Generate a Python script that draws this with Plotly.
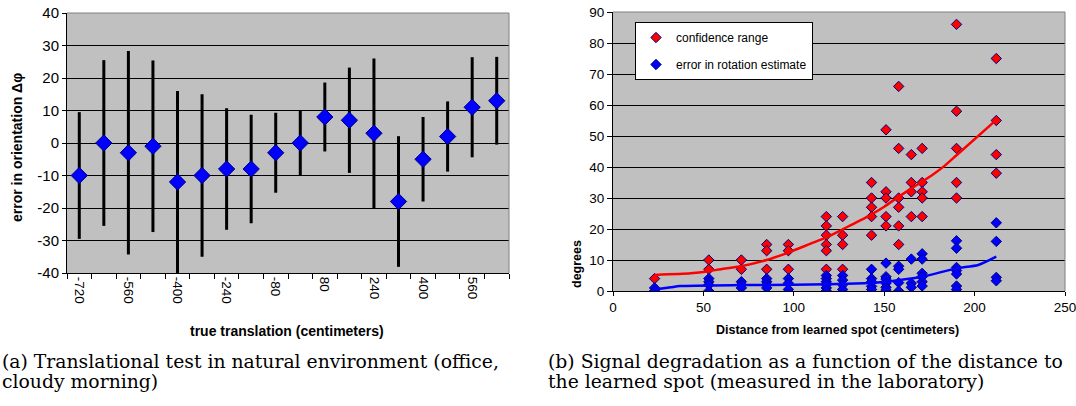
import plotly.graph_objects as go

W, H = 1076, 406

# ---------------- Left chart data ----------------
translation = [-720, -640, -560, -480, -400, -320, -240, -160, -80, 0,
               80, 160, 240, 320, 400, 480, 560, 640]
orient_error = [-10, 0, -3, -1, -12, -10, -8, -8, -3, 0,
                8, 7, 3, -18, -5, 2, 11, 13]
orient_spread = [19.5, 25.5, 31.3, 26.4, 28, 25, 18.7, 16.7, 12.3, 10,
                 10.6, 16.2, 23, 20.1, 13, 10.8, 15.4, 13.5]
left_tick_labels = ["-720", "", "-560", "", "-400", "", "-240", "", "-80", "",
                    "80", "", "240", "", "400", "", "560", ""]
left_y_ticks = [-40, -30, -20, -10, 0, 10, 20, 30, 40]
left_y_labels = ["-40", "-30", "-20", "-10", "0", "10", "20", "30", "40"]

# ---------------- Right chart data ----------------
conf_x = ([23] + [53] * 2 + [71] * 2 + [85] * 3 + [97] * 3 +
          [118] * 6 + [127] * 4 + [143] * 5 + [151] * 5 + [158] * 6 +
          [165] * 4 + [171] * 5 + [190] * 5 + [212] * 4)
conf_y = ([4] + [10, 7] + [10, 7] + [15, 13, 7] + [15, 13, 7] +
          [24, 21, 18, 15, 13, 7] + [24, 18, 15, 7] +
          [35, 30, 27, 24, 18] + [52, 32, 30, 24, 21] +
          [66, 46, 30, 27, 21, 15] + [44, 35, 32, 24] +
          [46, 35, 32, 30, 24] + [86, 58, 46, 35, 30] + [75, 55, 44, 38])

rot_x = ([23] * 2 + [53] * 4 + [71] * 3 + [85] * 4 + [97] * 3 +
         [118] * 6 + [127] * 4 + [143] * 5 + [151] * 6 + [158] * 4 +
         [165] * 3 + [171] * 6 + [190] * 7 + [212] * 4)
rot_y = ([1, 0] + [4, 3, 2, 0] + [3, 2, 1] + [4, 3, 2, 1] + [4, 2.5, 0.5] +
         [5, 4, 3, 2, 1, 0] + [5, 3.5, 2, 0.5] + [7, 4, 3, 1.5, 0.5] +
         [9, 4.6, 3.8, 2.5, 1.2, 0.3] + [8, 7, 2.7, 0] + [10.3, 2.5, 1.2] +
         [12, 10.3, 5.7, 4.6, 3, 1.6] + [16.2, 13.8, 7.6, 6.6, 5.5, 1.6, 0.5] +
         [22, 16, 4.4, 3.3])

conf_trend_x = [23, 43, 53, 61, 70, 85, 97, 109, 118, 127, 139, 143, 150,
                158, 165, 171, 177, 183, 190, 212]
conf_trend_y = [5.2, 5.7, 6.4, 7.2, 7.9, 10, 12.4, 15.2, 17.3, 19.9, 23.4,
                24.7, 27.2, 30.4, 33.1, 35.3, 37.6, 40.2, 43.8, 55.2]
rot_trend_x = [23, 32, 37, 70, 100, 139, 150, 158, 171, 190, 202, 212]
rot_trend_y = [0.5, 1.2, 1.6, 1.9, 2.0, 2.5, 2.9, 3.5, 4.6, 7.3, 8.4, 11.1]

# ---------------- layout geometry (pixels) ----------------
def px_x(p):
    return p / W

def px_y(p):
    return 1 - p / H

L_dom_x = [px_x(67), px_x(509)]
L_dom_y = [px_y(273), px_y(13)]
R_dom_x = [px_x(613), px_x(1065)]
R_dom_y = [px_y(291), px_y(12)]

PLOT_BG = "#C0C0C0"
FONT = "Liberation Sans, Arial, sans-serif"
NAVY = "#000080"

fig = go.Figure()

fig.add_trace(go.Scatter(
    x=[str(v) for v in translation], y=orient_error,
    mode="markers",
    marker=dict(symbol="diamond", size=12.5, color="#0000FF",
                line=dict(color=NAVY, width=1)),
    error_y=dict(type="data", array=orient_spread, visible=True,
                 color="black", thickness=3, width=0),
    xaxis="x", yaxis="y", showlegend=False,
))

fig.add_trace(go.Scatter(
    x=conf_x, y=conf_y, mode="markers", name="confidence range",
    marker=dict(symbol="diamond", size=8, color="#FF0000",
                line=dict(color=NAVY, width=1)),
    xaxis="x2", yaxis="y2", legendgroup="a",
))
fig.add_trace(go.Scatter(
    x=rot_x, y=rot_y, mode="markers", name="error in rotation estimate",
    marker=dict(symbol="diamond", size=8, color="#0000FF",
                line=dict(color=NAVY, width=1)),
    xaxis="x2", yaxis="y2", legendgroup="b",
))
fig.add_trace(go.Scatter(
    x=conf_trend_x, y=conf_trend_y, mode="lines",
    line=dict(color="#FF0000", width=2.5, shape="spline", smoothing=0.6),
    xaxis="x2", yaxis="y2", showlegend=False,
))
fig.add_trace(go.Scatter(
    x=rot_trend_x, y=rot_trend_y, mode="lines",
    line=dict(color="#0000FF", width=2.5, shape="spline", smoothing=0.6),
    xaxis="x2", yaxis="y2", showlegend=False,
))

axis_common = dict(showline=True, linecolor="black", linewidth=1,
                   ticks="outside", tickcolor="black", tickwidth=1,
                   zeroline=False, automargin=False,
                   ticklabeloverflow="allow")

layout = dict(
    width=W, height=H,
    autosize=False,
    margin=dict(l=0, r=0, t=0, b=0, pad=0, autoexpand=False),
    paper_bgcolor="white",
    plot_bgcolor=PLOT_BG,
    font=dict(family=FONT, color="black"),
    xaxis=dict(domain=L_dom_x, anchor="y", type="category",
               categoryorder="array",
               categoryarray=[str(v) for v in translation],
               range=[-0.5, len(translation) - 0.5],
               tickvals=[str(v) for v in translation],
               ticktext=left_tick_labels, tickangle=90,
               tickson="boundaries", ticklen=5, showgrid=False,
               tickfont=dict(size=13.5), **axis_common),
    yaxis=dict(domain=L_dom_y, anchor="x", range=[-40, 40],
               tickvals=left_y_ticks, ticktext=left_y_labels,
               ticklen=4, showgrid=True, gridcolor="black",
               gridwidth=1, tickfont=dict(size=15), **axis_common),
    xaxis2=dict(domain=R_dom_x, anchor="y2", range=[0, 250], dtick=50,
                ticklen=4, showgrid=False, tickfont=dict(size=13.5),
                **axis_common),
    yaxis2=dict(domain=R_dom_y, anchor="x2", range=[0, 90], dtick=10,
                ticklen=5, showgrid=True, gridcolor="black", gridwidth=1,
                tickfont=dict(size=13.5), **axis_common),
    legend=dict(x=px_x(635), y=px_y(22), xanchor="left", yanchor="top",
                bgcolor="white", bordercolor="black", borderwidth=1,
                font=dict(family=FONT, size=12), tracegroupgap=8,
                itemwidth=30),
    showlegend=True,
)
fig.update_layout(**layout)

# gray frame on top/right of both plot areas
for xr, yr in (("x domain", "y domain"), ("x2 domain", "y2 domain")):
    fig.add_shape(type="line", xref=xr, yref=yr, x0=0, x1=1, y0=1, y1=1,
                  line=dict(color="#808080", width=1), layer="above")
    fig.add_shape(type="line", xref=xr, yref=yr, x0=1, x1=1, y0=0, y1=1,
                  line=dict(color="#808080", width=1), layer="above")

# axis titles as annotations
def ann(text, x, y, size, angle=0, bold=True, family=FONT, xanchor="center"):
    fig.add_annotation(text=("<b>%s</b>" % text) if bold else text,
                       x=px_x(x), y=px_y(y), xref="paper", yref="paper",
                       showarrow=False, textangle=angle,
                       xanchor=xanchor, yanchor="middle",
                       font=dict(family=family, size=size, color="black"))

ann("error in orientation Δφ", 17, 148, 14, angle=-90)
ann("true translation (centimeters)", 287, 331, 14)
ann("degrees", 577, 264, 12.5, angle=-90)
ann("Distance from learned spot (centimeters)", 837, 330, 12.5)

SERIF = "DejaVu Serif, serif"
CAP = 18.8
ann("(a) Translational test in natural environment (office,", 0, 361, CAP,
    bold=False, family=SERIF, xanchor="left")
ann("cloudy morning)", 0, 381, CAP, bold=False, family=SERIF, xanchor="left")
ann("(b) Signal degradation as a function of the distance to", 546, 361, CAP,
    bold=False, family=SERIF, xanchor="left")
ann("the learned spot (measured in the laboratory)", 546, 381, CAP,
    bold=False, family=SERIF, xanchor="left")

fig.write_html("out.html")
